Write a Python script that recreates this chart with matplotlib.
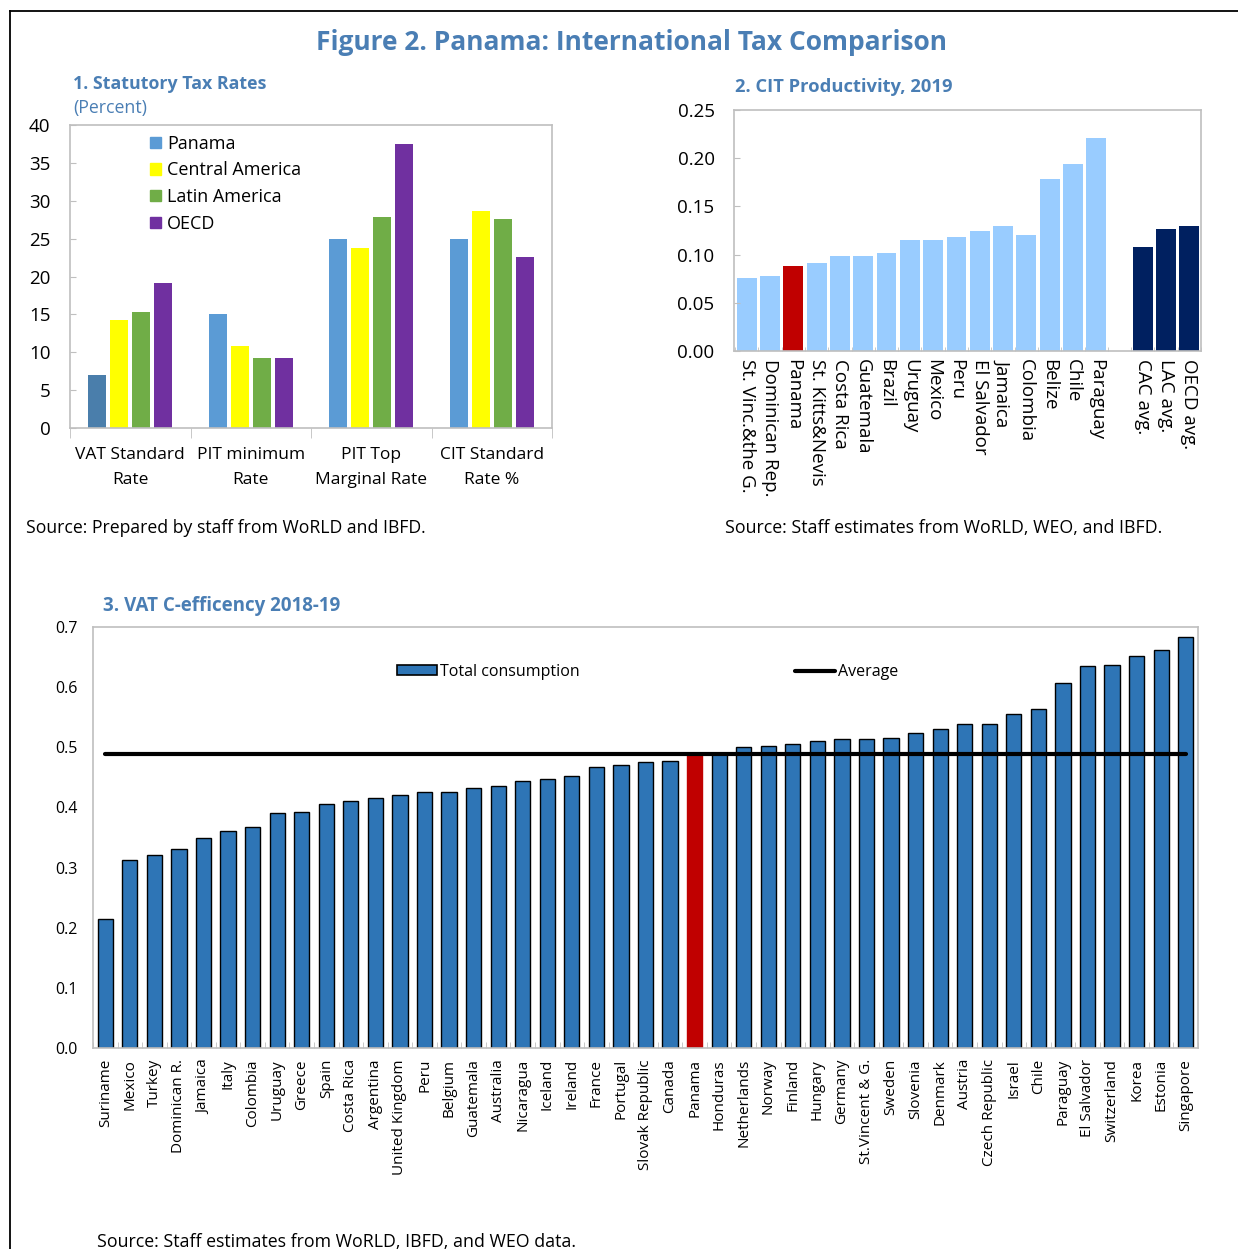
import matplotlib
matplotlib.use("Agg")
import matplotlib.pyplot as plt
import numpy as np
from matplotlib.lines import Line2D
from matplotlib.patches import Patch

plt.rcParams['font.family'] = ['Open Sans', 'DejaVu Sans']

# ---------------- data ----------------
# Panel 1
p1_categories = ["VAT Standard\nRate", "PIT minimum\nRate", "PIT Top\nMarginal Rate", "CIT Standard\nRate %"]
p1_series = ["Panama", "Central America", "Latin America", "OECD"]
p1_panama = [7.0, 15.0, 25.0, 25.0]
p1_central = [14.3, 10.8, 23.7, 28.7]
p1_latin = [15.3, 9.3, 27.8, 27.6]
p1_oecd = [19.2, 9.2, 37.5, 22.6]
p1_yticks = [0, 5, 10, 15, 20, 25, 30, 35, 40]

# Panel 2
p2_countries = ["St. Vinc.&the G.", "Dominican Rep.", "Panama", "St. Kitts&Nevis", "Costa Rica",
                "Guatemala", "Brazil", "Uruguay", "Mexico", "Peru", "El Salvador", "Jamaica",
                "Colombia", "Belize", "Chile", "Paraguay"]
p2_values = [0.076, 0.078, 0.088, 0.091, 0.099, 0.099, 0.102, 0.115, 0.115, 0.118, 0.124,
             0.130, 0.120, 0.178, 0.194, 0.221]
p2_avg_labels = ["CAC avg.", "LAC avg.", "OECD avg."]
p2_avg_values = [0.108, 0.127, 0.130]
p2_yticks = [0.00, 0.05, 0.10, 0.15, 0.20, 0.25]

# Panel 3
p3_countries = ["Suriname", "Mexico", "Turkey", "Dominican R.", "Jamaica", "Italy", "Colombia",
                "Uruguay", "Greece", "Spain", "Costa Rica", "Argentina", "United Kingdom", "Peru",
                "Belgium", "Guatemala", "Australia", "Nicaragua", "Iceland", "Ireland", "France",
                "Portugal", "Slovak Republic", "Canada", "Panama", "Honduras", "Netherlands",
                "Norway", "Finland", "Hungary", "Germany", "St.Vincent & G.", "Sweden", "Slovenia",
                "Denmark", "Austria", "Czech Republic", "Israel", "Chile", "Paraguay",
                "El Salvador", "Switzerland", "Korea", "Estonia", "Singapore"]
p3_values = [0.215, 0.313, 0.321, 0.331, 0.350, 0.360, 0.367, 0.390, 0.393, 0.406, 0.411,
             0.415, 0.420, 0.425, 0.426, 0.433, 0.436, 0.444, 0.448, 0.452, 0.467, 0.471,
             0.476, 0.477, 0.487, 0.489, 0.500, 0.502, 0.505, 0.511, 0.514, 0.514, 0.516,
             0.523, 0.530, 0.538, 0.539, 0.555, 0.564, 0.607, 0.635, 0.636, 0.652, 0.662, 0.683]
p3_average = 0.489
p3_yticks = [0.0, 0.1, 0.2, 0.3, 0.4, 0.5, 0.6, 0.7]

# ---------------- styles ----------------
TITLE_C = "#4A7EB4"
SPINE_C = "#BFBFBF"
W, H = 1238, 1249

def rect(l, t, r, b):
    return [l / W, 1 - b / H, (r - l) / W, (b - t) / H]

fig = plt.figure(figsize=(W / 100, H / 100), dpi=100)

# frame lines
fig.add_artist(Line2D([10 / W, 10 / W], [0, 1 - 11 / H], color="black", lw=1.3, transform=fig.transFigure))
fig.add_artist(Line2D([10 / W, 1], [1 - 11 / H, 1 - 11 / H], color="black", lw=1.3, transform=fig.transFigure))

fig.text(631 / W, 1 - 42 / H, "Figure 2. Panama: International Tax Comparison", color=TITLE_C,
         fontsize=19, fontweight="bold", ha="center", va="center")

def style_spines(ax):
    for s in ax.spines.values():
        s.set_color(SPINE_C)
        s.set_linewidth(1.2)

# ---------------- Panel 1 ----------------
ax1 = fig.add_axes(rect(70, 125, 552, 428))
style_spines(ax1)
x = np.arange(len(p1_categories))
step, bw = 0.183, 0.15
offs = (np.arange(4) - 1.5) * step
panama_colors = ["#4A7EAB", "#5B9BD5", "#5B9BD5", "#5B9BD5"]
ax1.bar(x + offs[0], p1_panama, bw, color=panama_colors, label=p1_series[0])
ax1.bar(x + offs[1], p1_central, bw, color="#FFFF00", label=p1_series[1])
ax1.bar(x + offs[2], p1_latin, bw, color="#70AD47", label=p1_series[2])
ax1.bar(x + offs[3], p1_oecd, bw, color="#7030A0", label=p1_series[3])
ax1.set_xlim(-0.5, 3.5)
ax1.set_ylim(0, 40)
ax1.set_yticks(p1_yticks)
ax1.set_yticklabels([str(v) for v in p1_yticks], fontsize=13.5)
ax1.tick_params(axis="y", direction="in", length=4, color=SPINE_C, pad=14)
ax1.set_xticks(x)
ax1.set_xticklabels(p1_categories, fontsize=12.5, linespacing=1.75)
ax1.tick_params(axis="x", length=0, pad=14)
ax1.set_xticks(np.arange(-0.5, 4, 1), minor=True)
ax1.tick_params(axis="x", which="minor", direction="out", length=7, color=SPINE_C)
handles1 = [Patch(color="#5B9BD5"), Patch(color="#FFFF00"), Patch(color="#70AD47"), Patch(color="#7030A0")]
ax1.legend(handles1, p1_series, loc="upper left", bbox_to_anchor=(0.14, 1.01), frameon=False,
           fontsize=13, handlelength=0.6, handleheight=0.6, handletextpad=0.35, labelspacing=0.48,
           borderaxespad=0.3)
fig.text(73 / W, 1 - 84 / H, "1. Statutory Tax Rates", color=TITLE_C, fontsize=12.8,
         fontweight="bold", ha="left", va="center")
fig.text(73 / W, 1 - 108 / H, "(Percent)", color=TITLE_C, fontsize=12.8, ha="left", va="center")
fig.text(26 / W, 1 - 528 / H, "Source: Prepared by staff from WoRLD and IBFD.", fontsize=12.7,
         ha="left", va="center")

# ---------------- Panel 2 ----------------
ax2 = fig.add_axes(rect(734, 110, 1201, 351))
style_spines(ax2)
xc = np.arange(len(p2_countries))
xa = np.arange(len(p2_countries) + 1, len(p2_countries) + 1 + len(p2_avg_labels))
c2 = ["#99CCFF"] * len(p2_countries)
c2[p2_countries.index("Panama")] = "#C00000"
ax2.bar(xc, p2_values, 0.85, color=c2)
ax2.bar(xa, p2_avg_values, 0.85, color="#002060")
ax2.set_xlim(-0.55, xa[-1] + 0.5)
ax2.set_ylim(0, 0.25)
ax2.set_yticks(p2_yticks)
ax2.set_yticklabels([f"{v:.2f}" for v in p2_yticks], fontsize=13.5)
ax2.tick_params(axis="y", direction="in", length=4, color=SPINE_C, pad=14)
ax2.set_xticks(list(xc) + list(xa))
ax2.set_xticklabels(p2_countries + p2_avg_labels, rotation=-90, fontsize=13.5, va="top", ha="center")
ax2.tick_params(axis="x", length=0, pad=6)
ax2.set_xticks(np.arange(-0.5, xa[-1] + 1, 1), minor=True)
ax2.tick_params(axis="x", which="minor", direction="in", length=3, color=SPINE_C)
fig.text(735 / W, 1 - 87 / H, "2. CIT Productivity, 2019", color=TITLE_C, fontsize=13.2,
         fontweight="bold", ha="left", va="center")
fig.text(725 / W, 1 - 528 / H, "Source: Staff estimates from WoRLD, WEO, and IBFD.", fontsize=12.75,
         ha="left", va="center")

# ---------------- Panel 3 ----------------
ax3 = fig.add_axes(rect(93, 627, 1198, 1048))
style_spines(ax3)
x3 = np.arange(len(p3_countries))
c3 = ["#2E75B6"] * len(p3_countries)
e3 = ["black"] * len(p3_countries)
ip = p3_countries.index("Panama")
c3[ip] = "#C00000"
e3[ip] = "#C00000"
ax3.bar(x3, p3_values, 0.62, color=c3, edgecolor=e3, linewidth=1.0, zorder=2)
ax3.plot(x3, [p3_average] * len(x3), color="black", lw=3, solid_capstyle="round", zorder=3)
ax3.set_xlim(-0.5, len(x3) - 0.5)
ax3.set_ylim(0, 0.7)
ax3.set_yticks(p3_yticks)
ax3.set_yticklabels([f"{v:.1f}" for v in p3_yticks], fontsize=11.5)
ax3.tick_params(axis="y", length=0, pad=11)
ax3.set_xticks(x3)
ax3.set_xticklabels(p3_countries, rotation=90, fontsize=11, va="top", ha="center")
ax3.tick_params(axis="x", length=0, pad=8)
ax3.set_xticks(np.arange(-0.5, len(x3), 1), minor=True)
ax3.tick_params(axis="x", which="minor", direction="in", length=4, color=SPINE_C)
leg_h = [Patch(facecolor="#2E75B6", edgecolor="black", linewidth=1.2),
         Line2D([0], [0], color="black", lw=3, solid_capstyle="round")]
ax3.legend(leg_h, ["Total consumption", "Average"], loc="center", bbox_to_anchor=(0.502, 0.893),
           ncol=2, frameon=False, fontsize=11.5, columnspacing=13.5, handlelength=2.5,
           handleheight=0.6, handletextpad=0.2)
fig.text(103 / W, 1 - 606 / H, "3. VAT C-efficency 2018-19", color=TITLE_C, fontsize=13.5,
         fontweight="bold", ha="left", va="center")
fig.text(97 / W, 1 - 1242 / H, "Source: Staff estimates from WoRLD, IBFD, and WEO data.",
         fontsize=12.8, ha="left", va="center")

fig.savefig("out.png", dpi=100)
